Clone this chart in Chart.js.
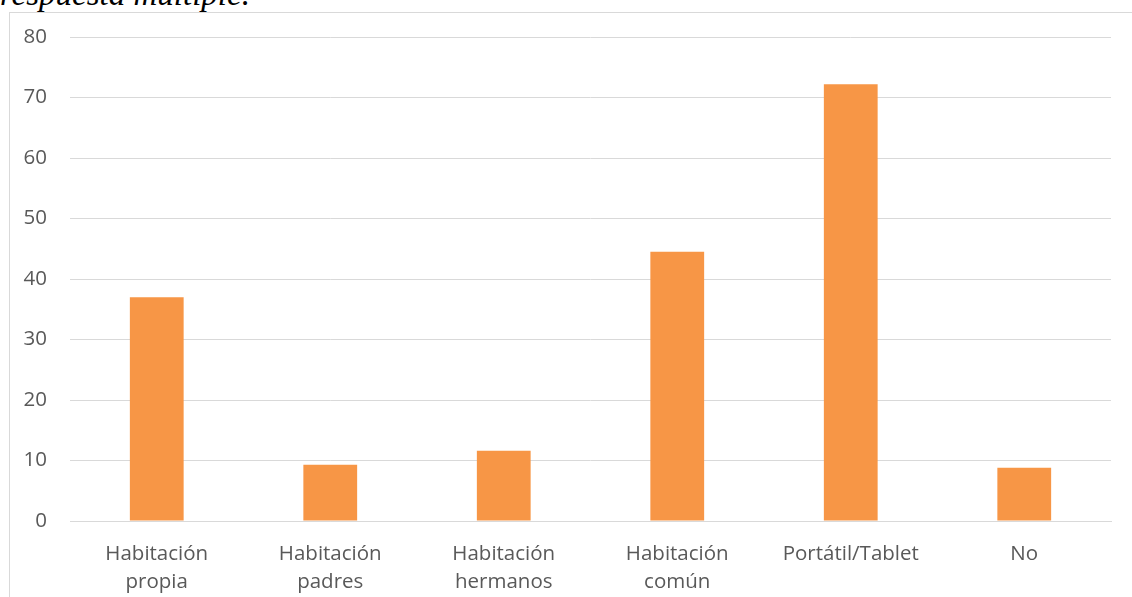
<!DOCTYPE html>
<html>
<head>
<meta charset="utf-8">
<script src="https://cdn.jsdelivr.net/npm/chart.js@4"></script>
<style>
  html, body { margin: 0; padding: 0; background: #fff; overflow: hidden; }
  #wrap { position: relative; width: 1132px; height: 597px; }
  #caption {
    position: absolute; left: 0; top: -24px; margin: 0;
    font-family: "Liberation Serif", serif; font-style: italic;
    font-size: 33px; color: #000; white-space: nowrap;
  }
  #frame {
    position: absolute; left: 9px; top: 12px; width: 1200px; height: 700px;
    border: 1px solid #d9d9d9; box-sizing: border-box;
  }
  #chart { position: absolute; left: 0; top: 0; }
</style>
</head>
<body>
<div id="wrap">
  <p id="caption">respuesta múltiple.</p>
  <div id="frame"></div>
  <canvas id="chart" width="1132" height="597"></canvas>
</div>
<script>
// categories and values
const categories = [
  ['Habitación', 'propia'],
  ['Habitación', 'padres'],
  ['Habitación', 'hermanos'],
  ['Habitación', 'común'],
  'Portátil/Tablet',
  'No',
];
const values = [37, 9.3, 11.6, 44.5, 72.2, 8.8];
const yTicks = [0, 10, 20, 30, 40, 50, 60, 70, 80];

const ctx = document.getElementById('chart').getContext('2d');
// eslint-disable-next-line no-new
new Chart(ctx, {
  type: 'bar',
  data: {
    labels: categories,
    datasets: [
      {
        label: 'Serie 1',
        backgroundColor: '#F79646',
        data: values,
        categoryPercentage: 1,
        barPercentage: 0.31,
      },
    ],
  },
  options: {
    responsive: false,
    animation: false,
    layout: { padding: { top: 37, right: 21, left: 0, bottom: 0 } },
    plugins: {
      legend: { display: false },
      tooltip: { enabled: false },
    },
    scales: {
      x: {
        grid: { display: false, drawTicks: false },
        border: { display: true, color: '#d9d9d9', width: 1 },
        ticks: {
          color: '#595959',
          font: { family: 'Open Sans', size: 20.5, lineHeight: 1.37 },
          padding: 19,
          maxRotation: 0,
          autoSkip: false,
        },
        afterFit: (s) => { s.height = 76; },
      },
      y: {
        min: 0,
        max: 80,
        afterBuildTicks: (s) => { s.ticks = yTicks.map((v) => ({ value: v })); },
        grid: { color: '#d9d9d9', lineWidth: 1, drawTicks: false },
        border: { display: false },
        ticks: {
          color: '#595959',
          font: { family: 'Open Sans', size: 20.5 },
          padding: 23,
        },
        afterFit: (s) => { s.width = 70; },
      },
    },
  },
});
</script>
</body>
</html>
